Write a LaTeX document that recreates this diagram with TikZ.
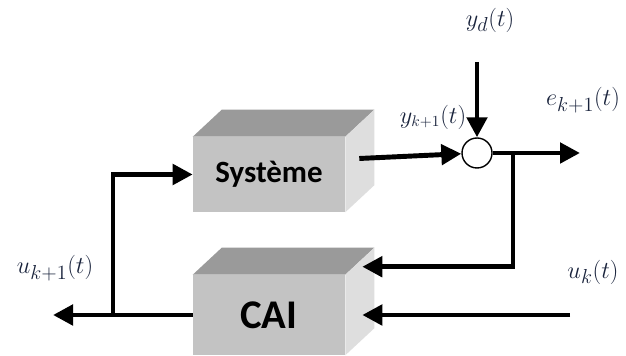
\documentclass[tikz,border=0pt]{standalone}
\usepackage{amsmath}
\usepackage{fontspec}
\setsansfont{Carlito}
\usepackage{tikz}
\usetikzlibrary{calc,arrows.meta}
\definecolor{boxfront}{RGB}{195,195,195}
\definecolor{boxtop}{RGB}{154,154,154}
\definecolor{boxside}{RGB}{222,222,222}
\definecolor{labcol}{RGB}{25,35,60}
\tikzset{>={Triangle[length=5mm,width=5mm]}}
\tikzset{
  front/.style={rectangle,fill=boxfront,inner sep=0,minimum width=3.8cm,font=\sffamily\bfseries},
  sig/.style={line width=3.5pt},
  lab/.style={text=labcol,inner sep=0,font=\fontsize{19}{22}\selectfont}
}

\begin{document}
\begin{tikzpicture}
      \useasboundingbox (0,0) rectangle (15.65,8.9);
      % boxes
      \node[front,minimum height=1.875cm,font=\sffamily\bfseries\fontsize{22}{24}\selectfont] (sys) at (6.725,4.5375) {Système};
      \node[front,minimum height=2cm,font=\sffamily\bfseries\fontsize{29}{32}\selectfont] (cai) at (6.725,1.025) {CAI};
      \foreach \b in {sys,cai}{
        \fill[boxtop] (\b.north west) -- ++(0.725,0.675) -- ($(\b.north east)+(0.725,0.675)$) -- (\b.north east) -- cycle;
        \fill[boxside] (\b.north east) -- ++(0.725,0.675) -- ($(\b.south east)+(0.725,0.675)$) -- (\b.south east) -- cycle;
      }
      \coordinate (sysout) at ($(sys.east)+(0.35,0.4)$);
      \node[circle,draw,fill=white,line width=1pt,minimum size=0.75cm,inner sep=0] (sum) at (11.925,5.075) {};
      % signals
      \coordinate (ydin) at (11.925,7.35);
      \coordinate (eout) at (14.5,5.075);
      \coordinate (fb) at (12.825,5.075);
      \coordinate (ukin) at (14.25,1.025);
      \coordinate (uout) at (1.325,1.025);
      \coordinate (split) at (2.825,1.025);
      \draw[sig,->] (sysout) -- (sum);
      \draw[sig,->] (ydin) -- (sum);
      \draw[sig,->] (sum) -- (eout);
      \draw[sig,->] (fb) |- ($(cai.north east)+(0.425,0.2)$);
      \draw[sig,->] (ukin) -- ($(cai.east)+(0.425,0)$);
      \draw[sig,->] (cai) -- (uout);
      \draw[sig,->] (split) |- (sys);
      % labels
      \node[lab] (yd) at (12.25,8.4) {$y_d(t)$};
      \node[lab,font=\fontsize{16}{18}\selectfont] (yk) at (10.825,5.975) {$y_{k+1}(t)$};
      \node[lab] (ek) at (14.575,6.4) {$e_{k+1}(t)$};
      \node[lab] (uk) at (14.825,2.1) {$u_k(t)$};
      \node[lab] (ukp) at (1.375,2.2) {$u_{k+1}(t)$};
\end{tikzpicture}
\end{document}
